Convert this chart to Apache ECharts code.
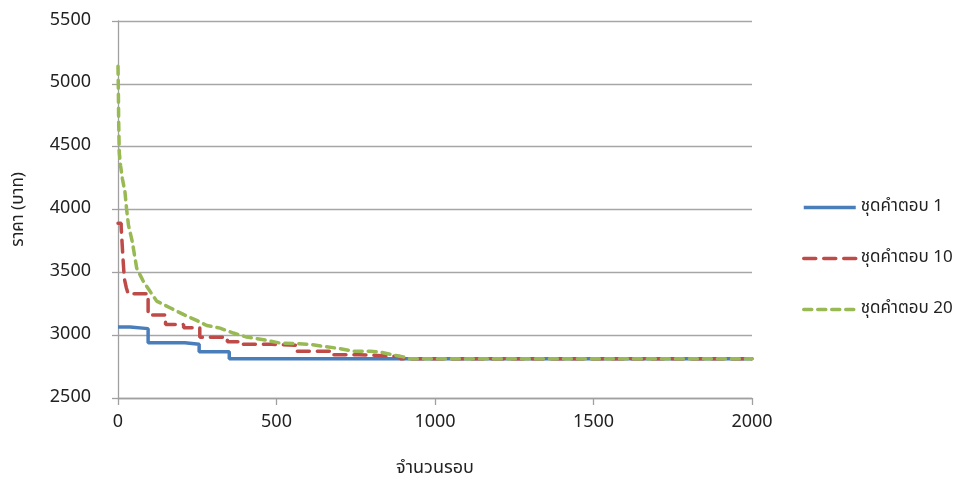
<!DOCTYPE html>
<html><head><meta charset="utf-8">
<script src="https://cdn.jsdelivr.net/npm/echarts@6/dist/echarts.min.js"></script>
<style>html,body{margin:0;padding:0;background:#fff}#c{width:968px;height:490px}</style>
</head><body><div id="c"></div>
<script>
const seriesNames = ['ชุดคำตอบ 1', 'ชุดคำตอบ 10', 'ชุดคำตอบ 20'];
const xTicks = [0, 500, 1000, 1500, 2000];
const yTicks = [2500, 3000, 3500, 4000, 4500, 5000, 5500];

const s1Iter = [0, 38, 95, 211, 256, 351, 2000];
const s1Cost = [3065, 3052, 2939, 2927, 2868, 2812, 2812];

const s10Iter = [0, 10, 16, 20, 26, 32, 95, 150, 207, 258, 345, 395, 485, 565, 680, 760, 890, 2000];
const s10Cost = [3890, 3860, 3600, 3450, 3380, 3330, 3160, 3085, 3060, 2983, 2947, 2927, 2920, 2872, 2845, 2830, 2812, 2812];

const s20Iter = [0, 1, 2, 4, 8, 14, 22, 27, 33, 45, 59, 80, 101, 122, 164, 206, 248, 280, 322, 364, 406, 459, 511, 553, 606, 648, 700, 742, 795, 827, 858, 900, 920, 2000];
const s20Cost = [5140, 4980, 4716, 4454, 4350, 4243, 4138, 4006, 3875, 3744, 3533, 3428, 3349, 3271, 3218, 3165, 3118, 3077, 3056, 3017, 2985, 2964, 2937, 2933, 2927, 2911, 2893, 2872, 2872, 2866, 2848, 2827, 2812, 2812];

const zip = (a, b) => a.map((v, i) => [v, b[i]]);
const FONT = "Tahoma, 'Noto Sans Thai', 'Noto Sans', sans-serif";
const chart = echarts.init(document.getElementById('c'), null, {renderer: 'canvas'});
chart.setOption({
  animation: false,
  backgroundColor: '#fff',
  textStyle: {fontFamily: FONT},
  grid: {left: 118, right: 216, top: 21, bottom: 92, containLabel: false},
  legend: {
    orient: 'vertical', left: 797, top: 194,
    itemWidth: 52, itemHeight: 14, itemGap: 34,
    itemStyle: {opacity: 0},
    lineStyle: {width: 3.5},
    textStyle: {fontSize: 17, color: '#222', fontFamily: FONT},
    data: seriesNames
  },
  xAxis: {
    type: 'value', min: xTicks[0], max: xTicks[xTicks.length - 1], interval: 500,
    name: 'จำนวนรอบ', nameLocation: 'middle', nameGap: 62,
    nameTextStyle: {fontSize: 18, color: '#222', fontFamily: FONT},
    axisLine: {lineStyle: {color: '#A0A0A0', width: 1.3}},
    axisTick: {show: true, length: 7, lineStyle: {color: '#A0A0A0', width: 1.3}},
    axisLabel: {fontSize: 18, color: '#222', margin: 16, formatter: v => String(v)},
    splitLine: {show: false}
  },
  yAxis: {
    type: 'value', min: yTicks[0], max: yTicks[yTicks.length - 1], interval: 500,
    name: 'ราคา (บาท)', nameLocation: 'middle', nameGap: 90, nameRotate: 90,
    nameTextStyle: {fontSize: 17, color: '#222', fontFamily: FONT},
    axisLine: {show: true, lineStyle: {color: '#A0A0A0', width: 1.3}},
    axisTick: {show: true, length: 6, lineStyle: {color: '#A0A0A0', width: 1.3}},
    axisLabel: {fontSize: 18, color: '#222', margin: 27, formatter: v => String(v)},
    splitLine: {show: true, lineStyle: {color: '#A6A6A6', width: 1.3}}
  },
  series: [
    {name: seriesNames[0], type: 'line', step: 'end', symbol: 'none', data: zip(s1Iter, s1Cost),
     itemStyle: {color: '#4A7EBB'}, lineStyle: {color: '#4A7EBB', width: 3.5}},
    {name: seriesNames[1], type: 'line', step: 'end', symbol: 'none', data: zip(s10Iter, s10Cost),
     itemStyle: {color: '#BE4B48'}, lineStyle: {color: '#BE4B48', width: 3.5, type: [12, 8], cap: 'round'}},
    {name: seriesNames[2], type: 'line', symbol: 'none', data: zip(s20Iter, s20Cost),
     itemStyle: {color: '#98B954'}, lineStyle: {color: '#98B954', width: 3.5, type: [8, 6], cap: 'round'}}
  ]
});
</script></body></html>
